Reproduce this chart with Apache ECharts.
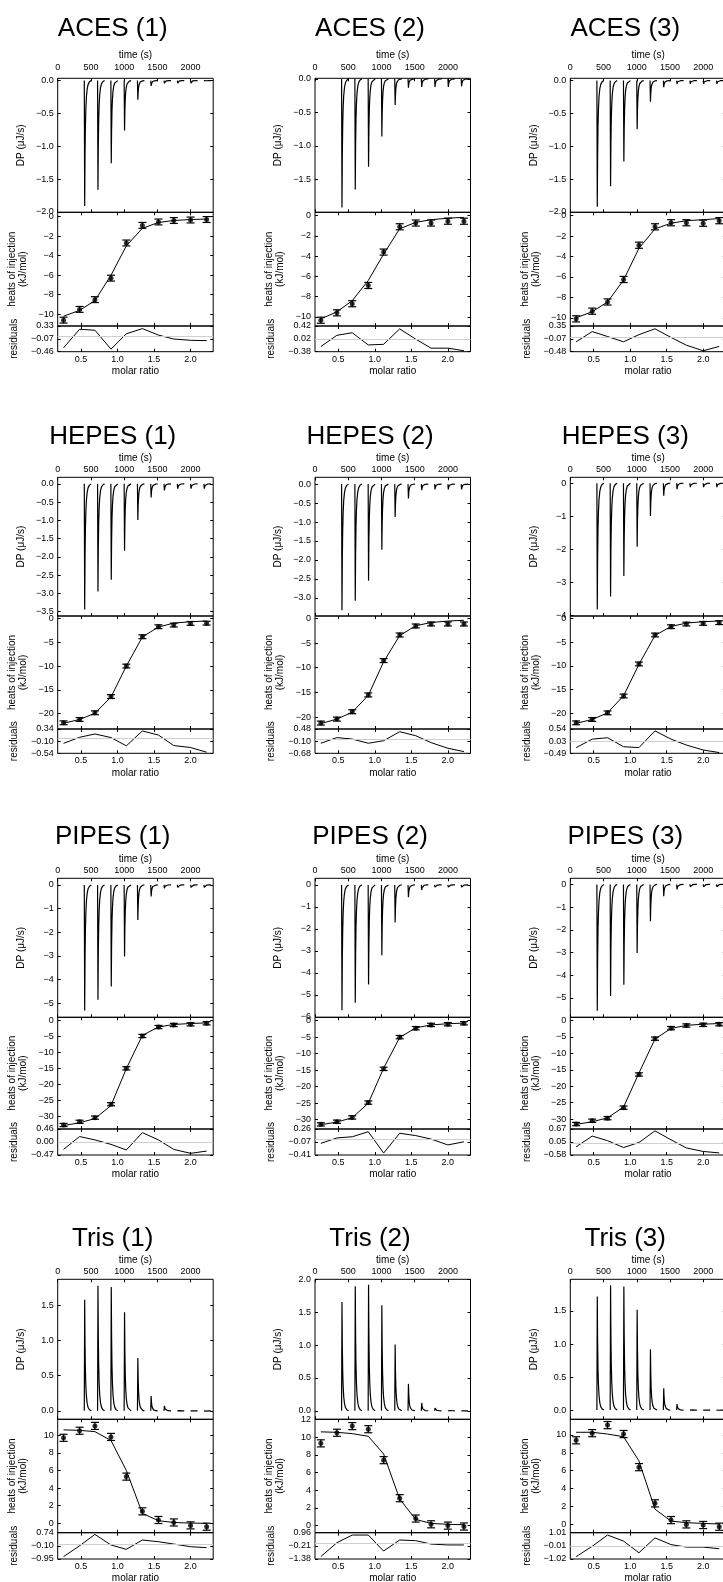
<!DOCTYPE html>
<html>
<head>
<meta charset="utf-8">
<script src="https://cdn.jsdelivr.net/npm/echarts@6/dist/echarts.min.js"></script>
<style>
  html, body { margin: 0; padding: 0; background: #fff; }
  #chart { width: 723px; height: 1582px; }
</style>
</head>
<body>
<div id="chart"></div>
<script>
// ---- data ----
const panelNames = ['ACES (1)', 'ACES (2)', 'ACES (3)', 'HEPES (1)', 'HEPES (2)', 'HEPES (3)',
  'PIPES (1)', 'PIPES (2)', 'PIPES (3)', 'Tris (1)', 'Tris (2)', 'Tris (3)'];

const injectionTimes = [400, 600, 800, 1000, 1200, 1400, 1600, 1800, 2000, 2200];
// shape of one injection peak: seconds after injection / fraction of peak height
const peakShapeOffset = [0, 6, 11, 17, 24, 32, 44, 58, 78, 105];
const peakShapeFrac = [0, 1, 0.6, 0.36, 0.22, 0.13, 0.065, 0.03, 0.01, 0];

const dpPeaks = [
  [-1.91, -1.66, -1.26, -0.76, -0.29, -0.08, -0.04, -0.04, -0.04, -0.03],
  [-1.92, -1.65, -1.31, -0.86, -0.39, -0.13, -0.12, -0.12, -0.12, -0.11],
  [-1.92, -1.61, -1.23, -0.74, -0.32, -0.10, -0.05, -0.05, -0.05, -0.05],
  [-3.44, -2.95, -2.63, -1.83, -0.99, -0.37, -0.18, -0.13, -0.13, -0.13],
  [-3.33, -3.08, -2.55, -1.73, -0.87, -0.38, -0.16, -0.14, -0.14, -0.14],
  [-3.82, -3.43, -2.81, -1.92, -0.99, -0.38, -0.18, -0.12, -0.12, -0.12],
  [-5.31, -4.86, -4.30, -3.03, -1.48, -0.49, -0.14, -0.10, -0.10, -0.10],
  [-5.70, -5.36, -4.53, -3.20, -1.71, -0.56, -0.23, -0.10, -0.10, -0.10],
  [-5.56, -4.91, -4.42, -3.02, -1.62, -0.52, -0.22, -0.10, -0.10, -0.10],
  [1.58, 1.78, 1.76, 1.40, 0.75, 0.21, 0.07, 0.02, -0.01, -0.02],
  [1.66, 1.90, 1.92, 1.61, 1.01, 0.41, 0.12, 0.04, 0.01, -0.01],
  [1.72, 1.89, 1.87, 1.52, 0.92, 0.33, 0.09, 0.01, -0.01, -0.02]
];
const dpRange = [[-2.005, 0.035], [-1.99, 0.01], [-2.005, 0.035], [-3.62, 0.18], [-3.48, 0.18], [-4.02, 0.18],
  [-5.6, 0.28], [-6.02, 0.3], [-5.85, 0.27], [-0.12, 1.87], [-0.13, 2.005], [-0.14, 1.98]];
const dpTicks = [
  [-2, -1.5, -1, -0.5, 0], [-1.5, -1, -0.5, 0], [-2, -1.5, -1, -0.5, 0],
  [-3.5, -3, -2.5, -2, -1.5, -1, -0.5, 0], [-3, -2.5, -2, -1.5, -1, -0.5, 0], [-4, -3, -2, -1, 0],
  [-5, -4, -3, -2, -1, 0], [-6, -5, -4, -3, -2, -1, 0], [-5, -4, -3, -2, -1, 0],
  [0, 0.5, 1, 1.5], [0, 0.5, 1, 1.5, 2], [0, 0.5, 1, 1.5]
];
const dpDecimals = [1, 1, 1, 1, 1, 0, 0, 0, 0, 1, 1, 1];
const timeTicks = [0, 500, 1000, 1500, 2000];

const molarRatio = [0.26, 0.48, 0.69, 0.91, 1.12, 1.34, 1.56, 1.77, 2.0, 2.22];
const molarTicks = [0.5, 1.0, 1.5, 2.0];

const heats = [
  [-10.6, -9.5, -8.5, -6.3, -2.7, -0.9, -0.55, -0.4, -0.35, -0.3],
  [-10.33, -9.6, -8.7, -6.9, -3.6, -1.1, -0.73, -0.73, -0.55, -0.55],
  [-10.1, -9.35, -8.45, -6.25, -2.9, -1.1, -0.7, -0.7, -0.75, -0.5],
  [-21.9, -21.2, -19.8, -16.4, -10.0, -3.85, -1.75, -1.4, -1.05, -1.0],
  [-21.2, -20.4, -18.9, -15.5, -8.55, -3.37, -1.55, -1.14, -1.14, -1.14],
  [-22.0, -21.3, -19.9, -16.35, -9.6, -3.5, -1.75, -1.2, -1.05, -0.9],
  [-32.6, -31.6, -30.3, -26.1, -14.9, -4.8, -2.0, -1.35, -1.15, -0.83],
  [-31.4, -30.6, -29.3, -24.8, -14.6, -5.0, -2.3, -1.3, -1.1, -0.8],
  [-31.5, -30.5, -29.7, -26.5, -16.4, -5.5, -2.3, -1.5, -1.3, -1.1],
  [9.7, 10.5, 11.05, 9.8, 5.3, 1.36, 0.38, 0.1, -0.23, -0.38],
  [9.3, 10.5, 11.25, 10.9, 7.4, 3.1, 0.8, 0.15, 0.0, -0.1],
  [9.4, 10.2, 11.1, 10.1, 6.4, 2.35, 0.48, 0.0, -0.07, -0.26]
];
const heatsFit = [
  [-10.2, -9.6, -8.6, -6.0, -3.0, -1.2, -0.6, -0.4, -0.3, -0.25],
  [-10.2, -9.5, -8.4, -6.4, -3.8, -1.3, -0.66, -0.4, -0.25, -0.17],
  [-10.0, -9.4, -8.45, -6.3, -3.2, -1.3, -0.75, -0.5, -0.4, -0.3],
  [-22.0, -21.2, -19.9, -16.5, -10.0, -3.9, -1.8, -1.0, -0.7, -0.55],
  [-21.3, -20.4, -19.0, -15.6, -8.8, -3.5, -1.5, -0.85, -0.55, -0.4],
  [-22.1, -21.3, -19.9, -16.3, -9.7, -3.6, -1.7, -1.0, -0.7, -0.55],
  [-32.8, -31.9, -30.6, -26.5, -15.0, -4.6, -2.0, -1.2, -0.9, -0.7],
  [-31.5, -30.7, -29.4, -25.0, -14.4, -5.1, -2.2, -1.3, -0.95, -0.75],
  [-31.6, -30.8, -29.6, -26.3, -16.0, -5.6, -2.4, -1.45, -1.1, -0.9],
  [10.6, 10.55, 10.4, 9.4, 6.0, 1.13, 0.3, 0.1, 0.03, 0.0],
  [10.6, 10.55, 10.4, 10.1, 8.1, 3.0, 0.7, 0.25, 0.15, 0.1],
  [10.3, 10.3, 10.1, 9.8, 7.1, 1.7, 0.37, 0.19, 0.11, 0.04]
];
const heatsErr = [0.3, 0.3, 0.3, 0.4, 0.4, 0.4, 0.5, 0.5, 0.5, 0.4, 0.4, 0.4];
const heatsRange = [[-11.2, 0.44], [-10.9, 0.33], [-10.8, 0.32], [-23.2, 0.5], [-22.4, 0.47], [-23.3, 0.5],
  [-33.85, 1.04], [-32.8, 1.0], [-33.0, 1.0], [-1.06, 11.8], [-0.8, 12.02], [-0.93, 11.75]];
const heatsTicks = [
  [-10, -8, -6, -4, -2, 0], [-10, -8, -6, -4, -2, 0], [-10, -8, -6, -4, -2, 0],
  [-20, -15, -10, -5, 0], [-20, -15, -10, -5, 0], [-20, -15, -10, -5, 0],
  [-30, -25, -20, -15, -10, -5, 0], [-30, -25, -20, -15, -10, -5, 0], [-30, -25, -20, -15, -10, -5, 0],
  [0, 2, 4, 6, 8, 10], [0, 2, 4, 6, 8, 10, 12], [0, 2, 4, 6, 8, 10]
];

const residuals = [
  [-0.34, 0.23, 0.20, -0.38, 0.09, 0.25, 0.05, -0.07, -0.11, -0.12],
  [-0.22, 0.13, 0.21, -0.17, -0.15, 0.33, 0.01, -0.27, -0.27, -0.35],
  [-0.16, 0.17, 0.01, -0.16, 0.07, 0.26, -0.02, -0.27, -0.45, -0.31],
  [-0.18, 0.04, 0.16, 0.03, -0.27, 0.27, 0.12, -0.26, -0.33, -0.50],
  [-0.20, 0.07, 0.00, -0.20, -0.08, 0.35, 0.16, -0.17, -0.44, -0.60],
  [-0.25, 0.11, 0.17, -0.21, -0.25, 0.46, 0.11, -0.14, -0.35, -0.46],
  [-0.27, 0.19, 0.07, -0.09, -0.29, 0.33, 0.07, -0.27, -0.41, -0.33],
  [-0.11, 0.03, 0.06, 0.19, -0.36, 0.15, 0.09, 0.00, -0.15, -0.07],
  [-0.19, 0.33, 0.11, -0.22, 0.02, 0.58, 0.15, -0.24, -0.41, -0.48],
  [-0.80, -0.10, 0.63, -0.05, -0.33, 0.27, 0.16, 0.01, -0.16, -0.22],
  [-1.17, 0.07, 0.75, 0.75, -0.67, 0.31, 0.25, -0.05, -0.13, -0.13],
  [-0.84, -0.04, 0.83, 0.36, -0.54, 0.61, 0.09, -0.10, -0.10, -0.23]
];
const residualTicks = [
  [-0.46, -0.07, 0.33], [-0.38, 0.02, 0.42], [-0.48, -0.07, 0.35],
  [-0.54, -0.10, 0.34], [-0.68, -0.10, 0.48], [-0.49, 0.03, 0.54],
  [-0.47, 0.00, 0.46], [-0.41, -0.07, 0.26], [-0.58, 0.05, 0.67],
  [-0.95, -0.10, 0.74], [-1.38, -0.21, 0.96], [-1.02, -0.01, 1.01]
];

// ---- layout ----
const FONT = '"Liberation Sans", Arial, Helvetica, sans-serif';
const colLeft = [57.7, 315, 570.3];
const plotW = 155.5;
const rowBox = [
  { title: 29, top: 78.3, th: 134, bh: 113.7, rh: 25.7, timeGap: 18, timeMargin: 6.5 },
  { title: 437, top: 477.3, th: 138.7, bh: 113, rh: 24.3, timeGap: 13.5, timeMargin: 3.5 },
  { title: 837, top: 878.3, th: 139, bh: 111.7, rh: 26, timeGap: 13.5, timeMargin: 3.5 },
  { title: 1238.5, top: 1279.3, th: 140, bh: 113.4, rh: 26.3, timeGap: 13, timeMargin: 3.5 }
];
const timeMax = 2340;
const molarMin = 0.18, molarMax = 2.31;

const chart = echarts.init(document.getElementById('chart'));
const grids = [], xAxes = [], yAxes = [], series = [], graphics = [];

function fmt(v, d) {
  return (v < 0 ? '\u2212' : '') + Math.abs(v).toFixed(d);
}

const nameStyle = { fontSize: 10, fontFamily: FONT, color: '#000', lineHeight: 11 };
const labelStyle = { fontSize: 9, fontFamily: FONT, color: '#000' };

function mkAxis(gi, position, min, max, ticks, labelFmt, extra) {
  const a = {
    type: 'value', gridIndex: gi, position: position, min: min, max: max,
    axisLine: { show: false, onZero: false },
    splitLine: { show: false },
    axisTick: { show: true, inside: true, length: 3, customValues: ticks, lineStyle: { color: '#000', width: 1 } },
    axisLabel: labelFmt
      ? Object.assign({ show: true, customValues: ticks, formatter: labelFmt, margin: 4 }, labelStyle)
      : { show: false }
  };
  return Object.assign(a, extra || {});
}

// grid gi owns xAxes 2gi (bottom), 2gi+1 (top) and yAxes 2gi (left), 2gi+1 (right)
function addGrid(left, top, height, xMin, xMax, xTicks, topLabel, bottomLabel, yMin, yMax, yTicks, yFmt, yName) {
  const gi = grids.length;
  grids.push({ left: left, top: top, width: plotW, height: height, show: true, borderColor: '#000', borderWidth: 1,
    backgroundColor: 'transparent', containLabel: false, outerBoundsMode: 'none' });
  xAxes.push(mkAxis(gi, 'bottom', xMin, xMax, xTicks, null,
    bottomLabel ? {
      name: bottomLabel.name, nameLocation: 'middle', nameGap: bottomLabel.gap, nameTextStyle: nameStyle,
      axisLabel: Object.assign({ show: true, customValues: xTicks, formatter: v => v.toFixed(1), margin: bottomLabel.margin }, labelStyle)
    } : {}));
  xAxes.push(mkAxis(gi, 'top', xMin, xMax, xTicks, null,
    topLabel ? {
      name: topLabel.name, nameLocation: 'middle', nameGap: topLabel.gap, nameTextStyle: nameStyle,
      axisLabel: Object.assign({ show: true, customValues: xTicks, formatter: v => String(v), margin: topLabel.margin }, labelStyle)
    } : {}));
  yAxes.push(mkAxis(gi, 'left', yMin, yMax, yTicks, yFmt, yName));
  yAxes.push(mkAxis(gi, 'right', yMin, yMax, yTicks, null));
  return gi;
}

panelNames.forEach((title, p) => {
  const r = Math.floor(p / 3), c = p % 3;
  const box = rowBox[r];
  const left = colLeft[c];
  const dec = dpDecimals[p];

  graphics.push({
    type: 'text', x: left + 55, y: box.title,
    style: { text: title, fontSize: 26, fontFamily: FONT, fill: '#000', textAlign: 'center', textVerticalAlign: 'middle' }
  });

  // thermogram
  const g0 = addGrid(left, box.top, box.th, 0, timeMax, timeTicks,
    { name: 'time (s)', gap: box.timeGap, margin: box.timeMargin }, null,
    dpRange[p][0], dpRange[p][1], dpTicks[p], v => fmt(v, dec),
    { name: 'DP (\u03bcJ/s)', nameLocation: 'middle', nameRotate: 90, nameGap: 31, nameTextStyle: nameStyle });
  const thermo = [];
  injectionTimes.forEach((t, i) => {
    peakShapeOffset.forEach((o, k) => thermo.push([t + o, dpPeaks[p][i] * peakShapeFrac[k]]));
    thermo.push([t + peakShapeOffset[peakShapeOffset.length - 1] + 1, '-']);
  });
  series.push({
    type: 'line', xAxisIndex: 2 * g0, yAxisIndex: 2 * g0, data: thermo,
    showSymbol: false, symbol: 'none', connectNulls: false,
    lineStyle: { color: '#000', width: 1.2 }
  });

  // heats of injection
  const g1 = addGrid(left, box.top + box.th, box.bh, molarMin, molarMax, molarTicks, null, null,
    heatsRange[p][0], heatsRange[p][1], heatsTicks[p], v => fmt(v, 0),
    { name: 'heats of injection\n(kJ/mol)', nameLocation: 'middle', nameRotate: 90, nameGap: 29, nameTextStyle: nameStyle });
  series.push({
    type: 'line', xAxisIndex: 2 * g1, yAxisIndex: 2 * g1,
    data: molarRatio.map((x, i) => [x, heatsFit[p][i]]),
    showSymbol: false, symbol: 'none', lineStyle: { color: '#000', width: 1 }
  });
  series.push({
    type: 'custom', xAxisIndex: 2 * g1, yAxisIndex: 2 * g1,
    data: molarRatio.map((x, i) => [x, heats[p][i], heatsErr[p]]),
    encode: { x: 0, y: 1 },
    renderItem: (params, api) => {
      const x = api.value(0), y = api.value(1), e = api.value(2);
      const lo = api.coord([x, y - e]), hi = api.coord([x, y + e]);
      const w = 4;
      const st = { stroke: '#000', lineWidth: 1.2 };
      return {
        type: 'group', children: [
          { type: 'line', shape: { x1: lo[0], y1: lo[1], x2: hi[0], y2: hi[1] }, style: st },
          { type: 'line', shape: { x1: lo[0] - w, y1: lo[1], x2: lo[0] + w, y2: lo[1] }, style: st },
          { type: 'line', shape: { x1: hi[0] - w, y1: hi[1], x2: hi[0] + w, y2: hi[1] }, style: st }
        ]
      };
    }
  });
  series.push({
    type: 'scatter', xAxisIndex: 2 * g1, yAxisIndex: 2 * g1,
    data: molarRatio.map((x, i) => [x, heats[p][i]]),
    symbol: 'circle', symbolSize: 5, itemStyle: { color: '#000' }
  });

  // residuals
  const rt = residualTicks[p];
  const g2 = addGrid(left, box.top + box.th + box.bh, box.rh, molarMin, molarMax, molarTicks,
    null, { name: 'molar ratio', gap: 14, margin: 3 },
    rt[0], rt[2], rt, v => fmt(v, 2),
    { name: 'residuals', nameLocation: 'middle', nameRotate: 90, nameGap: 38, nameTextStyle: nameStyle });
  series.push({
    type: 'line', xAxisIndex: 2 * g2, yAxisIndex: 2 * g2,
    data: molarRatio.map((x, i) => [x, residuals[p][i]]),
    showSymbol: false, symbol: 'none', lineStyle: { color: '#000', width: 1 },
    markLine: {
      silent: true, symbol: 'none', label: { show: false },
      lineStyle: { color: '#cfcfcf', width: 1, type: 'solid' },
      data: [{ yAxis: 0 }]
    }
  });
});

chart.setOption({
  animation: false,
  backgroundColor: '#fff',
  grid: grids,
  xAxis: xAxes,
  yAxis: yAxes,
  series: series,
  graphic: graphics
});
</script>
</body>
</html>
